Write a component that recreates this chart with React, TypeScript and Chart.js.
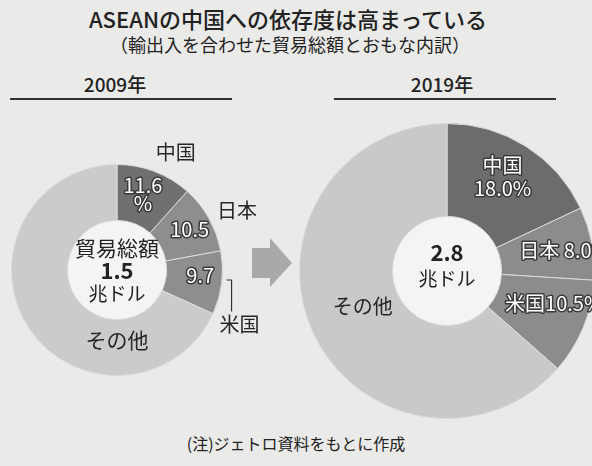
import React, { useEffect, useRef } from "react";
import { Chart, registerables } from "chart.js";

Chart.register(...registerables);

const FONT = '"Noto Sans CJK JP", "Noto Sans", sans-serif';

// ---- Data ----
const categories = ["中国", "日本", "米国", "その他"];
const values2009 = [11.6, 10.5, 9.7, 68.2];
const values2019 = [18.0, 8.0, 10.5, 63.5];
const total2009 = "1.5";
const total2019 = "2.8";
const colors2009 = ["#707070", "#8e8e8e", "#8e8e8e", "#cbcbcb"];
const colors2019 = ["#6c6c6c", "#8c8c8c", "#8c8c8c", "#c9c9c9"];

type LabelItem = {
  index: number;
  lines: string[];
  r: number; // fraction of outer radius
  dAngle: number; // degrees from slice mid-angle
  size: number;
  lineH?: number;
  outlined?: boolean;
  align?: CanvasTextAlign;
  leader?: boolean;
};

function makeLabelPlugin(items: LabelItem[], center: { text: string; dy: number; size: number; bold?: boolean }[], holeColor: string) {
  return {
    id: "sliceLabels",
    beforeDatasetsDraw(chart: any) {
      const meta = chart.getDatasetMeta(0);
      const a: any = meta.data[0];
      if (!a) return;
      const ctx = chart.ctx;
      ctx.save();
      ctx.fillStyle = holeColor;
      ctx.beginPath();
      ctx.arc(a.x, a.y, a.innerRadius, 0, Math.PI * 2);
      ctx.fill();
      ctx.restore();
    },
    afterDatasetsDraw(chart: any) {
      const meta = chart.getDatasetMeta(0);
      const ctx: CanvasRenderingContext2D = chart.ctx;
      ctx.save();
      ctx.textBaseline = "middle";
      items.forEach((it) => {
        const arc: any = meta.data[it.index];
        const mid = (arc.startAngle + arc.endAngle) / 2 + (it.dAngle * Math.PI) / 180;
        const r = arc.outerRadius * it.r;
        const x = arc.x + Math.cos(mid) * r;
        const y = arc.y + Math.sin(mid) * r;
        ctx.font = `${it.size}px ${FONT}`;
        ctx.textAlign = it.align || "center";
        const lh = it.lineH || it.size;
        const y0 = y - ((it.lines.length - 1) * lh) / 2;
        it.lines.forEach((ln, i) => {
          const yy = y0 + i * lh;
          if (it.outlined) {
            ctx.lineJoin = "round";
            ctx.lineWidth = 3;
            ctx.strokeStyle = "#3a3a3a";
            ctx.strokeText(ln, x, yy);
            ctx.fillStyle = "#ffffff";
            ctx.fillText(ln, x, yy);
          } else {
            ctx.fillStyle = "#262626";
            ctx.fillText(ln, x, yy);
          }
        });
        if (it.leader) {
          // bracket leader from the slice edge down to the outside label
          const la = arc.endAngle - (19.5 * Math.PI) / 180;
          const lr = arc.outerRadius * 1.09;
          const lx = arc.x + Math.cos(la) * lr;
          const ly = arc.y + Math.sin(la) * lr;
          ctx.strokeStyle = "#333";
          ctx.lineWidth = 1.2;
          ctx.beginPath();
          ctx.moveTo(lx - 5, ly);
          ctx.lineTo(lx, ly);
          ctx.lineTo(lx, y - 13);
          ctx.stroke();
        }
      });
      const a0: any = meta.data[0];
      ctx.textAlign = "center";
      ctx.fillStyle = "#222";
      center.forEach((c) => {
        ctx.font = `${c.bold ? "bold " : ""}${c.size}px ${FONT}`;
        ctx.fillText(c.text, a0.x, a0.y + c.dy);
      });
      ctx.restore();
    },
  };
}

function Donut(props: {
  values: number[];
  colors: string[];
  cutout: string;
  padding: { left: number; right: number; top: number; bottom: number };
  width: number;
  height: number;
  style: React.CSSProperties;
  items: LabelItem[];
  center: { text: string; dy: number; size: number; bold?: boolean }[];
}) {
  const ref = useRef<HTMLCanvasElement>(null);
  useEffect(() => {
    if (!ref.current) return;
    const chart = new Chart(ref.current, {
      type: "doughnut",
      data: {
        labels: categories,
        datasets: [
          {
            data: props.values,
            backgroundColor: props.colors,
            borderColor: "#dadada",
            borderWidth: 1,
          },
        ],
      },
      options: {
        responsive: false,
        animation: false,
        cutout: props.cutout,
        rotation: 0,
        layout: { padding: props.padding },
        plugins: { legend: { display: false }, tooltip: { enabled: false } },
      },
      plugins: [makeLabelPlugin(props.items, props.center, "#f4f4f2")],
    });
    return () => chart.destroy();
  }, []);
  return <canvas ref={ref} width={props.width} height={props.height} style={{ position: "absolute", width: props.width, height: props.height, ...props.style }} />;
}

const items2009: LabelItem[] = [
  { index: 0, lines: ["11.6", "%"], r: 0.76, dAngle: -2, size: 20, lineH: 18, outlined: true },
  { index: 0, lines: ["中国"], r: 1.245, dAngle: 5.7, size: 20 },
  { index: 1, lines: ["10.5"], r: 0.79, dAngle: 0, size: 20, outlined: true },
  { index: 1, lines: ["日本"], r: 1.27, dAngle: 3, size: 20 },
  { index: 2, lines: ["9.7"], r: 0.79, dAngle: -3.6, size: 20, outlined: true },
  { index: 2, lines: ["米国"], r: 1.27, dAngle: 17, size: 20, leader: true },
  { index: 3, lines: ["その他"], r: 0.66, dAngle: -57.2, size: 21 },
];

const items2019: LabelItem[] = [
  { index: 0, lines: ["中国", "18.0%"], r: 0.743, dAngle: -1.9, size: 20, lineH: 23, outlined: true },
  { index: 1, lines: ["日本 8.0%"], r: 0.51, dAngle: -5.2, size: 20, outlined: true, align: "left" },
  { index: 2, lines: ["米国10.5%"], r: 0.45, dAngle: 6.4, size: 20, outlined: true, align: "left" },
  { index: 3, lines: ["その他"], r: 0.62, dAngle: 1.3, size: 20 },
];

export default function App() {
  useEffect(() => {
    document.body.style.margin = "0";
  }, []);
  const text = (t: string, x: number, y: number, size: number, weight: string | number = "normal", extra: React.CSSProperties = {}) => (
    <div
      style={{
        position: "absolute",
        left: x - 300,
        top: y - size * 0.75,
        width: 600,
        textAlign: "center",
        fontSize: size,
        lineHeight: `${size * 1.5}px`,
        fontWeight: weight as any,
        fontFamily: FONT,
        color: "#222",
        whiteSpace: "nowrap",
        ...extra,
      }}
    >
      {t}
    </div>
  );
  return (
    <div style={{ position: "relative", width: 592, height: 466, overflow: "hidden", background: "#eaeae8" }}>
      {text("ASEANの中国への依存度は高まっている", 288, 18, 22, 500)}
      {text("（輸出入を合わせた貿易総額とおもな内訳）", 290, 44, 18)}
      {text("2009年", 115, 84, 19, 500)}
      <div style={{ position: "absolute", left: 10, top: 98, width: 222, height: 0, borderTop: "2px solid #333" }} />
      {text("2019年", 442, 84, 19, 500)}
      <div style={{ position: "absolute", left: 334, top: 98, width: 222, height: 0, borderTop: "2px solid #333" }} />
      <Donut
        values={values2009}
        colors={colors2009}
        cutout="47%"
        width={290}
        height={300}
        style={{ left: 0, top: 120 }}
        padding={{ left: 11, right: 67, top: 44, bottom: 44 }}
        items={items2009}
        center={[
          { text: "貿易総額", dy: -22, size: 21 },
          { text: total2009, dy: 1, size: 22, bold: true },
          { text: "兆ドル", dy: 24, size: 19 },
        ]}
      />
      <svg style={{ position: "absolute", left: 248, top: 234 }} width={50} height={60}>
        <polygon points="4,14 22,14 22,4 44,29 22,53 22,44 4,44" fill="#a9a9a9" />
      </svg>
      <Donut
        values={values2019}
        colors={colors2019}
        cutout="37%"
        width={310}
        height={320}
        style={{ left: 290, top: 110 }}
        padding={{ left: 9, right: 5, top: 13, bottom: 11 }}
        items={items2019}
        center={[
          { text: total2019, dy: -18, size: 22, bold: true },
          { text: "兆ドル", dy: 8, size: 19 },
        ]}
      />
      {text("(注)ジェトロ資料をもとに作成", 296, 443, 16)}
    </div>
  );
}
